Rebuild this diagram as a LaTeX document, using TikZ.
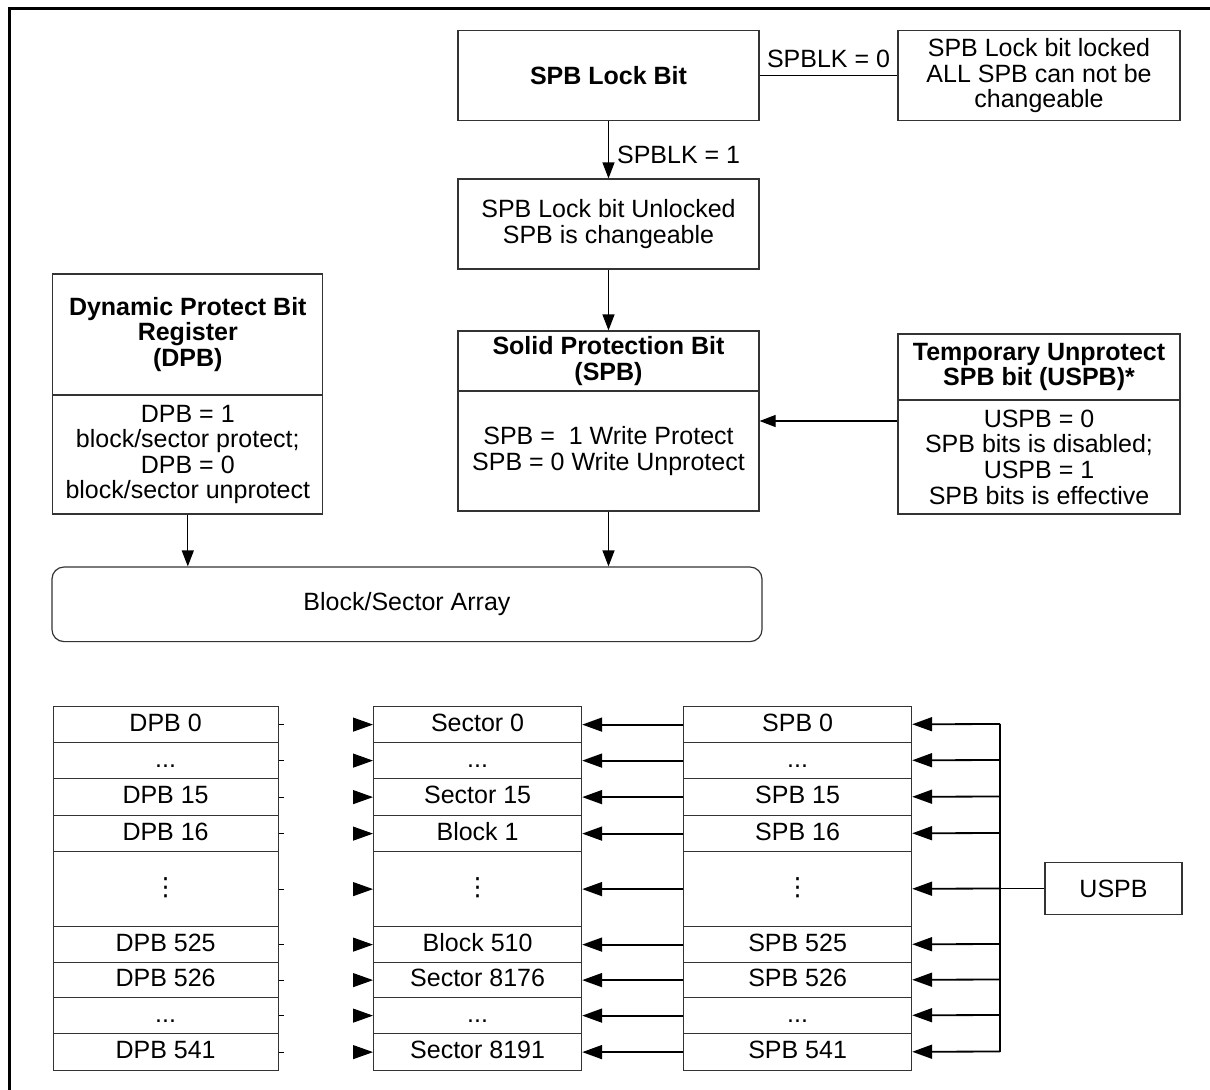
\documentclass[tikz,border=0pt]{standalone}
\usepackage{fontspec}
\setmainfont{Liberation Sans}
\newfontfamily\dvs{DejaVu Sans}
\usetikzlibrary{arrows.meta}
\newcommand{\fsz}{\fontsize{12.5}{12.8}\selectfont}
\newcommand{\ddd}{...}
\newcommand{\vdd}{{\dvs ⋮}}

\begin{document}
\begin{tikzpicture}[x=0.5pt,y=-0.5pt,font=\fsz,
  box/.style={draw=black!80,line width=0.6pt,inner sep=0pt,align=center},
  ttl/.style={box,font=\fsz\bfseries},
  cell/.style={box,anchor=north west,text height=9pt,text depth=2.6pt},
  arr/.style={line width=0.6pt,-{Triangle[length=8pt,width=6pt]}},
  bus/.style={line width=0.9pt,-{Triangle[length=10pt,width=7pt]}},
  stub/.style={line width=0.5pt,-{Triangle[length=10pt,width=7pt]},dash pattern=on 2.5pt off 400pt}]
\useasboundingbox (0,0) rectangle (1210,1089);
\draw[line width=1.5pt] (9,1100) -- (9,8) -- (1220,8);

\node[ttl,minimum width=150.5pt,minimum height=45pt] (lock) at (608.5,75.7) {SPB Lock Bit};
\node[box,minimum width=141pt,minimum height=45pt] (lkd) at (1039,75.7) {SPB Lock bit locked\\ALL SPB can not be\\changeable};
\node[box,minimum width=150.5pt,minimum height=45pt] (unl) at (608.5,224) {SPB Lock bit Unlocked\\SPB is changeable};

\node[ttl,minimum width=150.5pt,minimum height=30pt] (spbh) at (608.5,361) {Solid Protection Bit\\(SPB)};
\node[box,minimum width=150.5pt,minimum height=60pt] (spbb) at (608.5,451) {SPB = \ 1 Write Protect\\SPB = 0 Write Unprotect};
\node[ttl,minimum width=141pt,minimum height=33pt] (uspbh) at (1039,367) {Temporary Unprotect\\SPB bit (USPB)*};
\node[box,minimum width=141pt,minimum height=57pt] (uspbb) at (1039,457) {USPB = 0\\SPB bits is disabled;\\USPB = 1\\SPB bits is effective};
\node[ttl,minimum width=135pt,minimum height=60.5pt] (dpbh) at (187.8,334.5) {Dynamic Protect Bit\\Register\\(DPB)};
\node[box,minimum width=135pt,minimum height=59.5pt] (dpbb) at (187.8,454.5) {DPB = 1\\block/sector protect;\\DPB = 0\\block/sector unprotect};
\node[box,rounded corners=6pt,minimum width=355pt,minimum height=37.3pt] (bsa) at (407,604.3) {Block/Sector Array};
\coordinate (uin) at (0,421);

\draw[line width=0.6pt] (lock) -- node[above,inner sep=3.5pt]{SPBLK = 0} (lkd);
\draw[arr] (lock) -- node[right,inner sep=4pt,yshift=-2.5pt]{SPBLK = 1} (unl);
\draw[arr] (unl) -- (spbh);
\draw[arr] (uspbb.west |- uin) -- (spbb.east |- uin);
\draw[arr] (dpbb.south) -- (dpbb.south |- bsa.north);
\draw[arr] (spbb.south) -- (spbb.south |- bsa.north);

\foreach \n/\t/\b/\dl/\sl/\pl in {1/706/742/DPB 0/Sector 0/SPB 0,
  2/742/778/\ddd/\ddd/\ddd, 3/778/815/DPB 15/Sector 15/SPB 15,
  4/815/851/DPB 16/Block 1/SPB 16, 5/851/926/\vdd/\vdd/\vdd,
  6/926/962/DPB 525/Block 510/SPB 525, 7/962/997/DPB 526/Sector 8176/SPB 526,
  8/997/1033/\ddd/\ddd/\ddd, 9/1033/1070/DPB 541/Sector 8191/SPB 541}
{
  \node[cell,minimum width=112.5pt,minimum height={(\b-\t)*0.5pt}] (d\n) at (52.5,\t) {\dl};
  \node[cell,minimum width=104pt,minimum height={(\b-\t)*0.5pt}] (s\n) at (373,\t) {\sl};
  \node[cell,minimum width=114pt,minimum height={(\b-\t)*0.5pt}] (p\n) at (683,\t) {\pl};
  \coordinate (b\n) at (1000,{(\t+\b)/2});
  \draw[stub] (d\n) -- (s\n);
  \draw[bus] (p\n) -- (s\n);
  \draw[bus] (b\n) -- (p\n);
}
\node[box,minimum width=68.5pt,minimum height=26pt] (uspb) at (1113.5,888.5) {USPB};
\draw[line width=0.9pt] (b1) -- (b9);
\draw[line width=0.9pt] (uspb) -- (b5);
\end{tikzpicture}
\end{document}
